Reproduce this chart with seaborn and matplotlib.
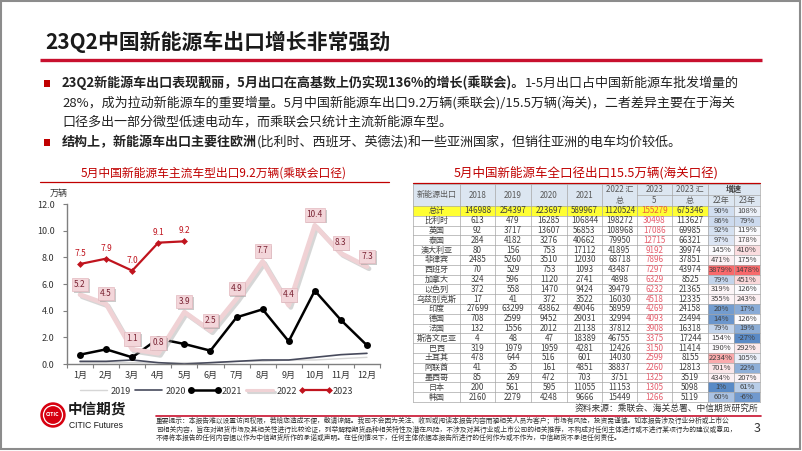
import numpy as np
import pandas as pd
import seaborn as sns
import matplotlib.pyplot as plt
import matplotlib.patheffects as pe
from matplotlib.patches import Rectangle, Circle
from matplotlib.colors import LinearSegmentedColormap, TwoSlopeNorm

sns.set_theme(style='white')
plt.rcParams['font.family'] = ['Noto Sans CJK SC', 'DejaVu Sans']
plt.rcParams['axes.unicode_minus'] = False

# ---- 折线图数据 (万辆)
months = ['1月', '2月', '3月', '4月', '5月', '6月', '7月', '8月', '9月', '10月', '11月', '12月']
y2019 = [0.1, 0.1, 0.1, 0.1, 0.1, 0.1, 0.2, 0.2, 0.3, 0.3, 0.4, 0.5]
y2020 = [0.2, 0.2, 0.3, 0.1, 0.0, 0.1, 0.2, 0.3, 0.3, 0.5, 0.7, 0.8]
y2021 = [0.7, 1.1, 0.5, 1.9, 1.5, 1.0, 3.5, 4.1, 1.7, 5.5, 3.3, 1.4]
y2022 = [5.2, 4.5, 1.1, 0.8, 3.9, 2.5, 4.9, 7.7, 4.4, 10.4, 8.3, 7.3]
y2023 = [7.5, 7.9, 7.0, 9.1, 9.2]

# ---- 表格数据 (海关口径)
countries = ['总计', '比利时', '英国', '泰国', '澳大利亚', '菲律宾', '西班牙', '加拿大', '以色列', '乌兹别克斯',
             '印度', '德国', '法国', '斯洛文尼亚', '巴西', '土耳其', '阿联酋', '墨西哥', '日本', '韩国']
v2018 = [146988, 613, 92, 284, 80, 2485, 70, 324, 372, 17, 27699, 708, 132, 4, 319, 478, 41, 85, 200, 2160]
v2019 = [254397, 479, 3717, 4182, 156, 5260, 529, 596, 558, 41, 63299, 2599, 1556, 48, 1979, 644, 35, 269, 561, 2279]
v2020 = [223697, 16285, 13607, 3276, 753, 3510, 753, 1120, 1470, 372, 43862, 9452, 2012, 47, 1959, 516, 161, 472, 595, 4248]
v2021 = [589967, 106844, 56853, 40662, 17112, 12030, 1093, 2741, 9424, 3522, 49046, 29031, 21138, 18389, 4281, 601,
         4851, 703, 11055, 9666]
v2022 = [1120524, 198272, 108968, 79950, 41895, 68718, 43487, 4898, 39479, 16030, 58959, 32994, 37812, 46755, 12426,
         14030, 38837, 3751, 11153, 15449]
v2023m5 = [155279, 30498, 17086, 12715, 9192, 7896, 7297, 6329, 6232, 4518, 4269, 4093, 3908, 3375, 3150, 2599, 2260,
           1325, 1305, 1266]
v2023 = [675346, 113627, 69985, 66321, 39974, 37851, 43974, 8525, 21365, 12335, 24158, 23494, 16318, 17244, 11414, 8155,
         12813, 3519, 5098, 5119]
g22 = [90, 86, 92, 97, 145, 471, 3879, 79, 319, 355, 20, 14, 79, 154, 190, 2234, 701, 434, 1, 60]
g23 = [108, 79, 119, 178, 410, 175, 1478, 451, 126, 243, 17, 126, 19, -27, 292, 105, 22, 207, 61, -6]

fig = plt.figure(figsize=(8.02, 4.51), dpi=100)
fig.patch.set_facecolor('white')

# 背景层，坐标 = 像素
bg = fig.add_axes([0, 0, 1, 1])
bg.set_xlim(0, 802)
bg.set_ylim(451, 0)
bg.axis('off')
bg.patch.set_alpha(0)

red = '#c00000'
bg.add_patch(Rectangle((1, 1), 799, 448, fill=False, edgecolor='#8c8c8c', lw=1.5))

# 标题
bg.text(45, 42, '23Q2中国新能源车出口增长非常强劲', fontsize=15, fontweight='bold', color='#1a1a1a', va='center')
bg.plot([40, 762], [60, 60], color='#c8102e', lw=2.4, solid_capstyle='butt')

# 要点
fig.canvas.draw()
rend = fig.canvas.get_renderer()
fs = 9.4
def mixed(x, y, parts):
    for txt, w in parts:
        t = bg.text(x, y, txt, fontsize=fs, fontweight=w, color='#222222', va='center')
        x += t.get_window_extent(renderer=rend).width

for by in (83, 142):
    bg.add_patch(Rectangle((44, by - 3.5), 6, 7, color=red, lw=0))
mixed(62, 83, [('23Q2新能源车出口表现靓丽，5月出口在高基数上仍实现136%的增长(乘联会)。', 'bold'),
               ('1-5月出口占中国新能源车批发增量的', 'normal')])
mixed(62, 102.5, [('28%，成为拉动新能源车的重要增量。5月中国新能源车出口9.2万辆(乘联会)/15.5万辆(海关)，二者差异主要在于海关', 'normal')])
mixed(62, 122, [('口径多出一部分微型低速电动车，而乘联会只统计主流新能源车型。', 'normal')])
mixed(62, 142, [('结构上，新能源车出口主要往欧洲', 'bold'),
                ('(比利时、西班牙、英德法)和一些亚洲国家，但销往亚洲的电车均价较低。', 'normal')])

# 左图标题
bg.text(214, 173, '5月中国新能源车主流车型出口9.2万辆(乘联会口径)', fontsize=8.5, color=red, ha='center', va='center')
bg.plot([40, 389], [182, 182], color=red, lw=0.9)
bg.text(50, 193, '万辆', fontsize=6.5, color='#333333', va='center')

# ---- 折线图
ax = fig.add_axes([67 / 802, 1 - 364 / 451, 313 / 802, 160 / 451])
ax.patch.set_alpha(0)
xs = np.arange(12)
sns.lineplot(x=xs, y=y2019, ax=ax, color='#d6d6d6', lw=1.0, label='2019')
sns.lineplot(x=xs, y=y2020, ax=ax, color='#474a5c', lw=1.2, label='2020')
sns.lineplot(x=xs, y=y2021, ax=ax, color='black', lw=1.8, marker='o', markersize=5, markeredgewidth=0, label='2021')
sns.lineplot(x=xs, y=y2022, ax=ax, color='#f0d2d5', lw=3.4, label='2022',
             path_effects=[pe.SimpleLineShadow(offset=(1.5, -1.5), shadow_color='#9a9a9a', alpha=0.4), pe.Normal()])
sns.lineplot(x=xs[:5], y=y2023, ax=ax, color='#c0141e', lw=1.6, marker='D', markersize=3.5, markeredgewidth=0,
             label='2023')

for i, v in enumerate(y2022):
    t = ax.annotate(f'{v:.1f}', (i, v), xytext=(0, 7.5), textcoords='offset points', ha='center', va='center',
                    fontsize=6, color='#7a2434',
                    bbox=dict(boxstyle='square,pad=0.25', fc='#f3d6da', ec='#e3b9bf', lw=0.5))
    t.get_bbox_patch().set_path_effects([pe.SimplePatchShadow(offset=(1.2, -1.2), shadow_rgbFace='#999999', alpha=0.5),
                                         pe.Normal()])
for i, v in enumerate(y2023):
    ax.annotate(f'{v:.1f}', (i, v), xytext=(0, 7.5), textcoords='offset points', ha='center', va='center',
                fontsize=6, color='#c0141e')

ax.set_xlim(-0.5, 11.5)
ax.set_ylim(0, 12)
ax.set_xticks(xs)
ax.set_xticklabels(months)
ax.set_xticks(np.arange(-0.5, 12, 1), minor=True)
ax.set_yticks(np.arange(0, 13, 2))
ax.set_yticklabels([f'{v:.1f}' for v in np.arange(0, 13, 2)])
ax.tick_params(axis='x', which='major', length=0, labelsize=6.5, labelcolor='#333333', pad=5)
ax.tick_params(axis='x', which='minor', bottom=True, length=3, width=0.8, color='#7f7f7f', direction='out')
ax.tick_params(axis='y', left=True, length=3, width=0.8, color='#7f7f7f', labelsize=6.5, labelcolor='#333333', pad=6)
for s in ('top', 'right'):
    ax.spines[s].set_visible(False)
for s in ('left', 'bottom'):
    ax.spines[s].set_color('#7f7f7f')
    ax.spines[s].set_linewidth(1.0)
ax.set_xlabel('')
ax.set_ylabel('')
leg = ax.legend(loc='center', bbox_to_anchor=(215 / 802, 1 - 391 / 451), bbox_transform=fig.transFigure, ncol=5,
                frameon=False, fontsize=6.5, handlelength=3.6, columnspacing=0.2, handletextpad=0.1, numpoints=2,
                labelcolor='#333333')
for h in leg.legend_handles:
    if h.get_linewidth() > 3:
        h.set_linewidth(2.2)

# ---- 右侧表格
bg.text(586, 173, '5月中国新能源车全口径出口15.5万辆(海关口径)', fontsize=9, color=red, ha='center', va='center')
bg.plot([413, 760], [183, 183], color=red, lw=0.9)

xe = [413, 460, 495, 531, 567, 602, 637, 672, 708, 734, 760]
top, hmid, hbot = 184, 195, 206
rh = (402 - hbot) / len(countries)
grid = '#a6a6a6'
txtc = '#404040'
tfs = 5.8
bg.add_patch(Rectangle((xe[0], top), xe[-1] - xe[0], hbot - top, fc='#dce6f1', ec='none'))
hdr = dict(fontsize=tfs, color='#595959', ha='center', va='center')
bg.text((xe[0] + xe[1]) / 2, (top + hbot) / 2, '新能源出口', **hdr)
for k, lab in enumerate(['2018', '2019', '2020', '2021']):
    bg.text((xe[k + 1] + xe[k + 2]) / 2, (top + hbot) / 2, lab, **hdr)
bg.text((xe[5] + xe[6]) / 2, (top + hmid) / 2, '2022 汇', **hdr)
bg.text((xe[5] + xe[6]) / 2, (hmid + hbot) / 2, '总', **hdr)
bg.text((xe[6] + xe[7]) / 2, (top + hmid) / 2, '2023', **hdr)
bg.text((xe[6] + xe[7]) / 2, (hmid + hbot) / 2, '5', **hdr)
bg.text((xe[7] + xe[8]) / 2, (top + hmid) / 2, '2023 汇', **hdr)
bg.text((xe[7] + xe[8]) / 2, (hmid + hbot) / 2, '总', **hdr)
bg.text((xe[8] + xe[10]) / 2, (top + hmid) / 2, '增速', fontsize=tfs, color='#404040', fontweight='bold',
        ha='center', va='center')
bg.text((xe[8] + xe[9]) / 2, (hmid + hbot) / 2, '22年', **hdr)
bg.text((xe[9] + xe[10]) / 2, (hmid + hbot) / 2, '23年', **hdr)

cmap = LinearSegmentedColormap.from_list('xl3', ['#5a8ac6', '#fcfcff', '#f8696b'])
norms = [TwoSlopeNorm(vmin=min(g), vcenter=float(np.median(g)), vmax=max(g)) for g in (g22, g23)]

cols = [v2018, v2019, v2020, v2021, v2022, v2023m5, v2023]
for r, name in enumerate(countries):
    y0 = hbot + r * rh
    yc = y0 + rh / 2
    if r == 0:
        bg.add_patch(Rectangle((xe[0], y0), xe[8] - xe[0], rh, fc='#ffff33', ec='none'))
    for k, g in enumerate((g22, g23)):
        bg.add_patch(Rectangle((xe[8 + k], y0), xe[9 + k] - xe[8 + k], rh, fc=cmap(norms[k](g[r])), ec='none'))
        bg.text((xe[8 + k] + xe[9 + k]) / 2, yc, f'{g[r]}%', fontsize=5.5, color=txtc, ha='center', va='center')
    bg.text((xe[0] + xe[1]) / 2, yc, name, fontsize=tfs, color=txtc, ha='center', va='center')
    for c, col in enumerate(cols):
        colr = txtc
        if c == 5:
            colr = '#e8603c' if r == 0 else '#e65f6e'
        bg.text((xe[c + 1] + xe[c + 2]) / 2, yc, f'{col[r]}', fontsize=tfs, color=colr, ha='center', va='center')

# 网格线
for r in range(len(countries) + 1):
    y = hbot + r * rh
    bg.plot([xe[0], xe[-1]], [y, y], color=grid, lw=0.5)
bg.plot([xe[0], xe[-1]], [top, top], color=grid, lw=0.5)
bg.plot([xe[6], xe[10]], [hmid, hmid], color=grid, lw=0.5)
for k, x in enumerate(xe):
    bg.plot([x, x], [top, 402], color=grid, lw=0.5)

bg.text(758, 408, '资料来源：乘联会、海关总署、中信期货研究所', fontsize=6.3, color='#333333', ha='right', va='center')

# ---- 页脚
bg.plot([156, 761], [416, 416], color='#c8102e', lw=1.2)
notes = ['重要提示：本报告难以设置访问权限，若给您造成不便，敬请谅解。我司不会因为关注、收到或阅读本报告内容而视相关人员为客户；市场有风险，投资需谨慎。如本报告涉及行业分析或上市公',
         '司相关内容，旨在对期货市场及其相关性进行比较论证，列举解释期货品种相关特性及潜在风险，不涉及对其行业或上市公司的相关推荐，不构成对任何主体进行或不进行某项行为的建议或意见，',
         '不得将本报告的任何内容据以作为中信期货所作的承诺或声明。在任何情况下，任何主体依据本报告所进行的任何作为或不作为，中信期货不承担任何责任。']
for k, line in enumerate(notes):
    bg.text(156, 421 + k * 8.5, line, fontsize=4.9, color='#333333', va='center')
bg.text(757, 429, '3', fontsize=9, color='#333333', ha='center', va='center')

bg.add_patch(Circle((53, 415), 12, color='#d7000f'))
bg.add_patch(Circle((53, 415), 9.5, fill=False, ec='white', lw=0.9))
bg.text(53, 415, 'CITIC', fontsize=3.8, color='white', fontweight='bold', ha='center', va='center')
bg.text(68, 409, '中信期货', fontsize=10.5, fontweight='bold', color='#1a1a1a', va='center')
bg.text(69, 425, 'CITIC Futures', fontsize=6.2, color='#1a1a1a', va='center', family=['Liberation Sans', 'DejaVu Sans'])

fig.savefig('out.png', dpi=100)
